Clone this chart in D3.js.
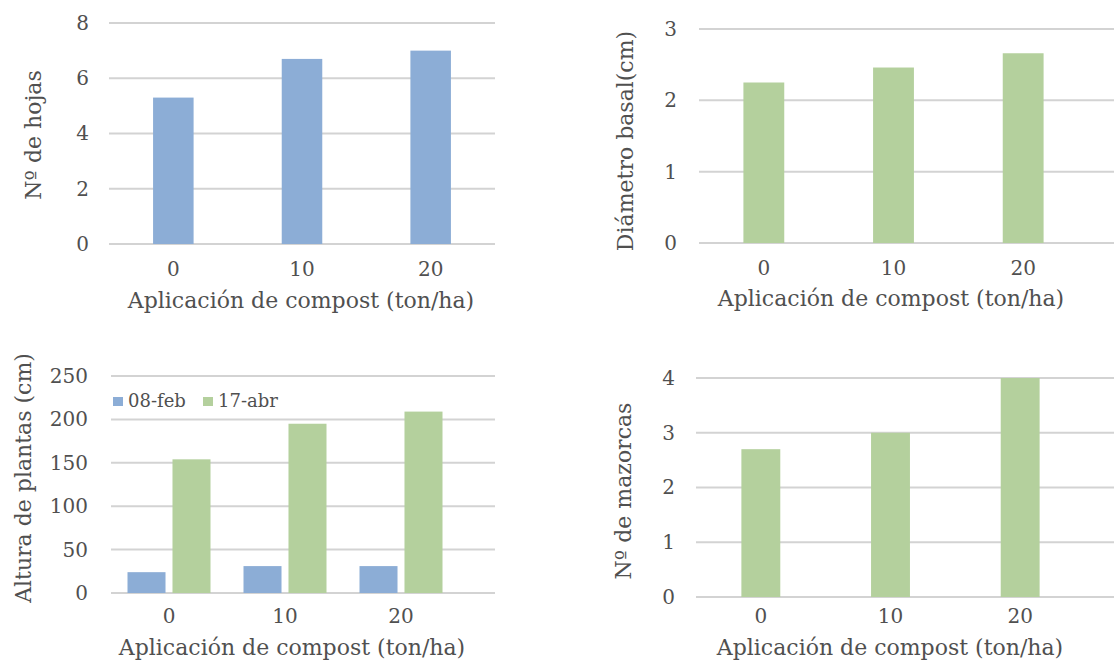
<!DOCTYPE html>
<html>
<head>
<meta charset="utf-8">
<script src="https://cdn.jsdelivr.net/npm/d3@7"></script>
<style>
  html, body { margin: 0; padding: 0; background: #fff; }
  svg { display: block; }
  text { font-family: "DejaVu Serif", serif; fill: #505050; }
</style>
</head>
<body>
<svg id="chart" width="1114" height="661"></svg>
<script>
// ---- data ----
const categories = ["0", "10", "20"];
const xTitle = "Aplicación de compost (ton/ha)";

const hojasValues = [5.3, 6.7, 7.0];
const hojasTicks = [0, 2, 4, 6, 8];

const diametroValues = [2.25, 2.46, 2.66];
const diametroTicks = [0, 1, 2, 3];

const alturaSeries = ["08-feb", "17-abr"];
const alturaFeb = [24, 31, 31];
const alturaAbr = [154, 195, 209];
const alturaTicks = [0, 50, 100, 150, 200, 250];

const mazorcasValues = [2.7, 3.0, 4.0];
const mazorcasTicks = [0, 1, 2, 3, 4];

const BLUE = "#8cadd6";
const GREEN = "#b4d09d";
const GRID = "#d3d3d3";
const TEXT = "#505050";

const svg = d3.select("#chart");

function panel(cfg) {
  const g = svg.append("g");
  const x = d3.scaleBand().domain(categories).range([cfg.x0, cfg.x1]).padding(0);
  const y = d3.scaleLinear().domain([0, cfg.ticks[cfg.ticks.length - 1]]).range([cfg.y0, cfg.yTop]);

  // gridlines
  g.append("g").selectAll("line").data(cfg.ticks).join("line")
    .attr("x1", cfg.x0).attr("x2", cfg.gridEnd)
    .attr("y1", d => y(d)).attr("y2", d => y(d))
    .attr("stroke", GRID).attr("stroke-width", 2);

  // y axis labels
  const ya = g.append("g").attr("transform", `translate(${cfg.x0 - cfg.yLabelGap},0)`)
    .call(d3.axisLeft(y).tickValues(cfg.ticks).tickFormat(d3.format("d")).tickSize(0).tickPadding(0));
  ya.select(".domain").remove();
  ya.selectAll("text").style("font-family", '"DejaVu Serif", serif').style("font-size", "20px").attr("fill", TEXT);

  // x axis labels
  const xa = g.append("g").attr("transform", `translate(0,${cfg.y0})`)
    .call(d3.axisBottom(x).tickSize(0).tickPadding(cfg.xLabelPad));
  xa.select(".domain").remove();
  xa.selectAll("text").style("font-family", '"DejaVu Serif", serif').style("font-size", "20px").attr("fill", TEXT);

  // bars
  if (cfg.series) {
    const inner = d3.scaleBand().domain(cfg.series.map(s => s.name))
      .range([0, cfg.groupWidth]).paddingInner(cfg.innerPad);
    cfg.series.forEach(s => {
      g.append("g").selectAll("rect").data(categories).join("rect")
        .attr("x", (d) => x(d) + (x.bandwidth() - cfg.groupWidth) / 2 + inner(s.name))
        .attr("width", inner.bandwidth())
        .attr("y", (d, i) => y(s.values[i]))
        .attr("height", (d, i) => y(0) - y(s.values[i]))
        .attr("fill", s.color);
    });
  } else {
    const bw = x.bandwidth() * cfg.barFrac;
    g.append("g").selectAll("rect").data(categories).join("rect")
      .attr("x", d => x(d) + (x.bandwidth() - bw) / 2)
      .attr("width", bw)
      .attr("y", (d, i) => y(cfg.values[i]))
      .attr("height", (d, i) => y(0) - y(cfg.values[i]))
      .attr("fill", cfg.color);
  }

  // x title
  g.append("text")
    .attr("x", cfg.xTitleX).attr("y", cfg.xTitleY)
    .attr("text-anchor", "middle")
    .style("font-size", "22px")
    .text(xTitle);

  // y title
  g.append("text")
    .attr("transform", `translate(${cfg.yTitleX},${cfg.yTitleY}) rotate(-90)`)
    .attr("text-anchor", "middle")
    .attr("dy", "0.35em")
    .style("font-size", "22px")
    .text(cfg.yTitle);

  return { g, x, y };
}

panel({
  x0: 109, x1: 495, gridEnd: 495, y0: 244, yTop: 23,
  ticks: hojasTicks, values: hojasValues, color: BLUE, barFrac: 0.315,
  yLabelGap: 20, xLabelPad: 18,
  xTitleX: 301, xTitleY: 308,
  yTitle: "Nº de hojas", yTitleX: 33, yTitleY: 135
});

panel({
  x0: 699, x1: 1088, gridEnd: 1114, y0: 243, yTop: 29,
  ticks: diametroTicks, values: diametroValues, color: GREEN, barFrac: 0.315,
  yLabelGap: 22, xLabelPad: 18,
  xTitleX: 891, xTitleY: 306,
  yTitle: "Diámetro basal(cm)", yTitleX: 625, yTitleY: 141
});

panel({
  x0: 111, x1: 459, gridEnd: 495, y0: 593, yTop: 376,
  ticks: alturaTicks, color: BLUE,
  series: [
    { name: alturaSeries[0], values: alturaFeb, color: BLUE },
    { name: alturaSeries[1], values: alturaAbr, color: GREEN }
  ],
  groupWidth: 83, innerPad: 0.155,
  yLabelGap: 23, xLabelPad: 16,
  xTitleX: 292, xTitleY: 655,
  yTitle: "Altura de plantas (cm)", yTitleX: 23, yTitleY: 478
});

panel({
  x0: 696, x1: 1085, gridEnd: 1114, y0: 597, yTop: 378,
  ticks: mazorcasTicks, values: mazorcasValues, color: GREEN, barFrac: 0.30,
  yLabelGap: 21, xLabelPad: 12,
  xTitleX: 890, xTitleY: 655,
  yTitle: "Nº de mazorcas", yTitleX: 623, yTitleY: 491
});

// legend for panel 3
const legendColors = [BLUE, GREEN];
const legendX = [113, 203];
const lg = svg.append("g");
alturaSeries.forEach((name, i) => {
  lg.append("rect").attr("x", legendX[i]).attr("y", 397).attr("width", 10).attr("height", 9).attr("fill", legendColors[i]);
  lg.append("text").attr("x", legendX[i] + 15).attr("y", 407).style("font-size", "18px").text(name);
});
</script>
</body>
</html>
